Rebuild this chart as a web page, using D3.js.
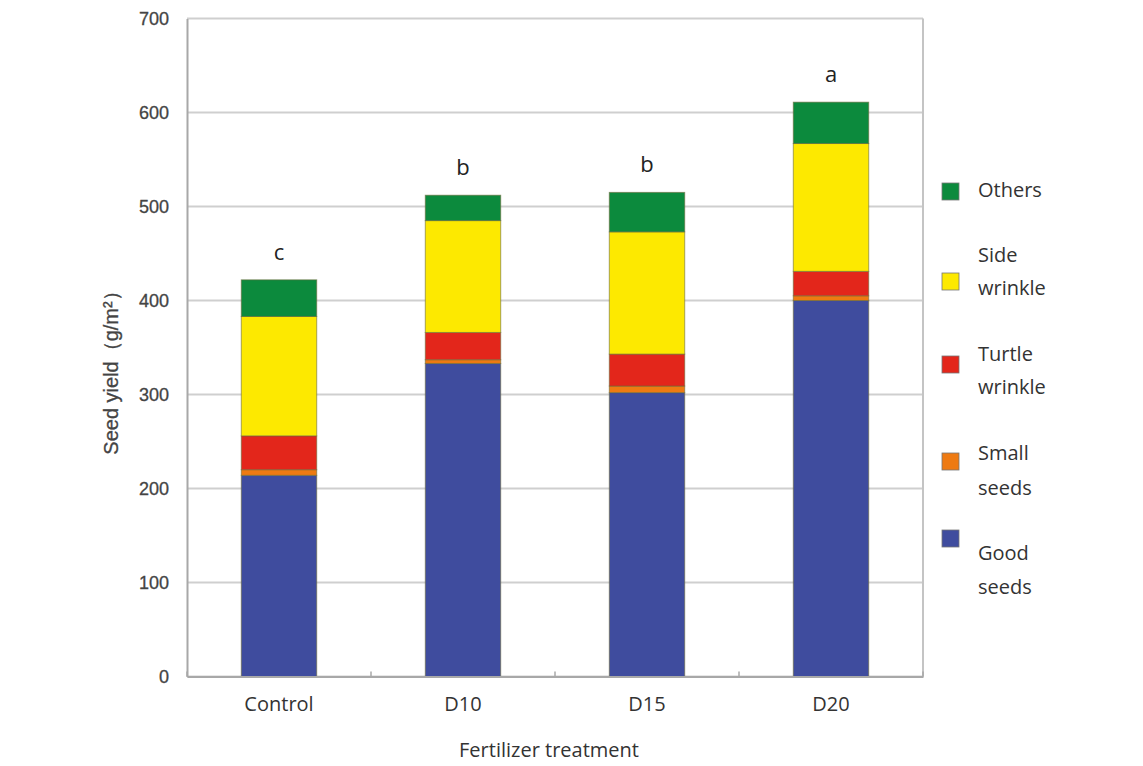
<!DOCTYPE html>
<html><head><meta charset="utf-8">
<script src="https://cdn.jsdelivr.net/npm/d3@7"></script>
<style>body{margin:0;background:#fff}svg{display:block}</style>
</head><body>
<svg id="c" width="1143" height="766"></svg>
<script>
const categories = ["Control", "D10", "D15", "D20"];
const goodSeeds = [214, 333, 302, 400];
const smallSeeds = [6, 4, 7, 5];
const turtleWrinkle = [36, 29, 34, 26];
const sideWrinkle = [127, 119, 130, 136];
const others = [39, 27, 42, 44];
const sigLetters = ["c", "b", "b", "a"];
const seriesNames = ["Good seeds", "Small seeds", "Turtle wrinkle", "Side wrinkle", "Others"];
const seriesColors = ["#3f4c9e", "#ee7a12", "#e3261b", "#fde900", "#0c8a3d"];
const yTicks = [0, 100, 200, 300, 400, 500, 600, 700];

const seriesKeys = ["good", "small", "turtle", "side", "others"];
const rows = categories.map((c, i) => ({cat: c, good: goodSeeds[i], small: smallSeeds[i], turtle: turtleWrinkle[i], side: sideWrinkle[i], others: others[i]}));

const svg = d3.select("#c");
const L = 187, R = 923, T = 18.5, B = 676.5;
const x = d3.scaleBand().domain(categories).range([L, R]).paddingInner(0.59).paddingOuter(0.295);
const y = d3.scaleLinear().domain([0, 700]).range([B, T]);
const font = "'Open Sans', 'Noto Sans', sans-serif";
const numFont = "'Liberation Sans', Arial, sans-serif";

// gridlines
svg.append("g").selectAll("line").data(yTicks).join("line")
  .attr("x1", L).attr("x2", R).attr("y1", d => y(d)).attr("y2", d => y(d))
  .attr("stroke", "#cfcfcf").attr("stroke-width", 2);
// right border
svg.append("line").attr("x1", R).attr("x2", R).attr("y1", T).attr("y2", B).attr("stroke", "#c4c4c4").attr("stroke-width", 2);

// y axis
const yAxis = svg.append("g").attr("transform", `translate(${L},0)`)
  .call(d3.axisLeft(y).tickValues(yTicks).tickSize(0).tickPadding(18));
yAxis.select(".domain").attr("stroke", "#a8a8a8").attr("stroke-width", 2);
yAxis.selectAll("text").attr("font-family", numFont).attr("font-size", 18).attr("fill", "#444")
  .attr("stroke", "#444").attr("stroke-width", 0.3);

// stacked bars
const stack = d3.stack().keys(seriesKeys)(rows);
svg.append("g").selectAll("g").data(stack).join("g")
  .attr("fill", (d, i) => seriesColors[i])
  .selectAll("rect").data(d => d).join("rect")
  .attr("x", d => x(d.data.cat)).attr("width", x.bandwidth())
  .attr("y", d => y(d[1])).attr("height", d => y(d[0]) - y(d[1]))
  .attr("stroke", "#6b6b3a").attr("stroke-opacity", 0.6).attr("stroke-width", 1);

// x axis
const bandStep = x.step();
const xAxis = svg.append("g").attr("transform", `translate(0,${B})`)
  .call(d3.axisBottom(x).tickSize(0).tickPadding(20));
xAxis.select(".domain").attr("stroke", "#a8a8a8").attr("stroke-width", 2);
xAxis.selectAll("text").attr("font-family", font).attr("font-size", 20).attr("fill", "#333");
const bounds = categories.map(c => x(c) - (bandStep - x.bandwidth()) / 2).concat([R]);
svg.append("g").selectAll("line").data(bounds).join("line")
  .attr("x1", d => d).attr("x2", d => d).attr("y1", B).attr("y2", B - 5)
  .attr("stroke", "#a8a8a8").attr("stroke-width", 1.5);

// significance letters
const totals = rows.map(r => seriesKeys.reduce((s, k) => s + r[k], 0));
svg.append("g").selectAll("text").data(categories).join("text")
  .attr("x", d => x(d) + x.bandwidth() / 2)
  .attr("y", (d, i) => y(totals[i]) - 20)
  .attr("text-anchor", "middle").attr("font-family", font).attr("font-size", 22).attr("fill", "#222")
  .text((d, i) => sigLetters[i]);

// axis titles
svg.append("text").attr("x", (L + R) / 2 - 6).attr("y", 757).attr("text-anchor", "middle")
  .attr("font-family", font).attr("font-size", 20).attr("fill", "#333").text("Fertilizer treatment");
svg.append("text").attr("transform", "translate(118,368) rotate(-90)").attr("text-anchor", "middle")
  .attr("font-family", numFont).attr("font-size", 20).attr("fill", "#444")
  .attr("stroke", "#444").attr("stroke-width", 0.3).text("Seed yield（g/m²）");

// legend (top to bottom: Others ... Good seeds)
const legend = [
  {i: 4, sq: 191, lines: ["Others"], ty: [197]},
  {i: 3, sq: 281, lines: ["Side", "wrinkle"], ty: [262, 295]},
  {i: 2, sq: 364, lines: ["Turtle", "wrinkle"], ty: [361, 394]},
  {i: 1, sq: 461, lines: ["Small", "seeds"], ty: [460, 495]},
  {i: 0, sq: 538, lines: ["Good", "seeds"], ty: [560, 594]}
];
const lg = svg.append("g");
legend.forEach(l => {
  lg.append("rect").attr("x", 942).attr("y", l.sq - 8).attr("width", 17).attr("height", 17)
    .attr("fill", seriesColors[l.i]).attr("stroke", "#777").attr("stroke-width", 0.8);
  l.lines.forEach((t, j) => lg.append("text").attr("x", 978).attr("y", l.ty[j])
    .attr("font-family", font).attr("font-size", 20).attr("fill", "#333").text(t));
});
</script>
</body></html>
